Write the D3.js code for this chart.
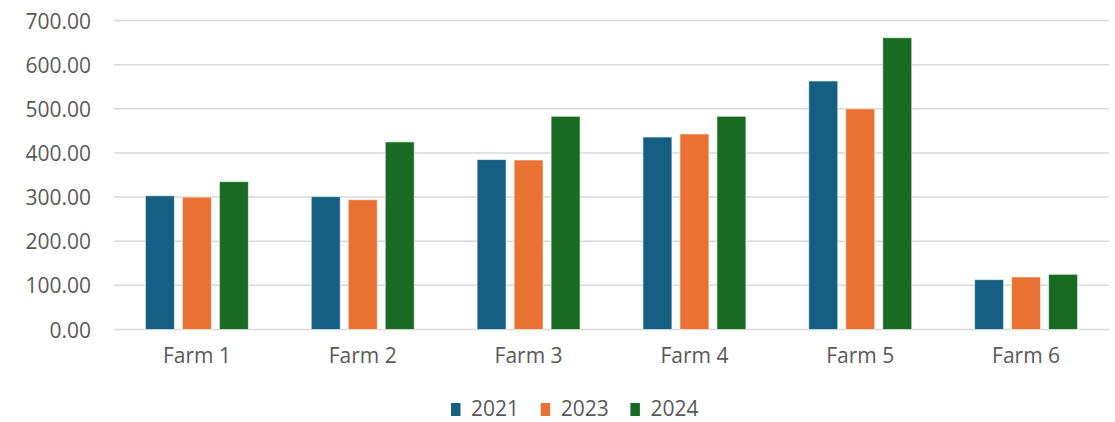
<!DOCTYPE html>
<html>
<head>
<meta charset="utf-8">
<script src="https://cdn.jsdelivr.net/npm/d3@7"></script>
<style>
  body { margin: 0; background: #fff; }
  svg text { font-family: "Open Sans", sans-serif; fill: #595959; }
</style>
</head>
<body>
<svg id="chart"></svg>
<script>
// chart data
var farms = ["Farm 1", "Farm 2", "Farm 3", "Farm 4", "Farm 5", "Farm 6"];
var years = ["2021", "2023", "2024"];
var values2021 = [303, 301, 385, 436, 563, 113];
var values2023 = [300, 294, 384, 443, 500, 119];
var values2024 = [335, 425, 483, 483, 661, 125];
var yTicks = [0, 100, 200, 300, 400, 500, 600, 700];
var colors = ["#156082", "#E97132", "#196B24"];

var series = [values2021, values2023, values2024];

var width = 1115;
var height = 422;

var svg = d3.select("#chart").attr("width", width).attr("height", height);

var x = d3.scaleBand().domain(farms).range([114, 1109]);
var groupW = 103;
var xs = d3.scaleBand().domain(years)
    .range([(x.bandwidth() - groupW) / 2, (x.bandwidth() + groupW) / 2])
    .paddingInner(0.216);
var y = d3.scaleLinear().domain([0, 700]).range([329.5, 20.5]);

// gridlines
svg.append("g").selectAll("line")
    .data(yTicks).enter().append("line")
    .attr("x1", 114).attr("x2", 1109)
    .attr("y1", function(d) { return y(d); })
    .attr("y2", function(d) { return y(d); })
    .attr("stroke", "#d9d9d9")
    .attr("stroke-width", 1.5);

// y axis labels
var yAxis = d3.axisLeft(y).tickValues(yTicks).tickSize(0).tickPadding(0)
    .tickFormat(d3.format(".2f"));
var yg = svg.append("g").attr("transform", "translate(91,0)").call(yAxis);
yg.select(".domain").remove();
yg.selectAll("text").attr("font-size", 21).attr("font-family", null).attr("fill", "#595959").attr("dy", "0.36em");

// x axis labels
var xAxis = d3.axisBottom(x).tickSize(0).tickPadding(0);
var xg = svg.append("g").attr("transform", "translate(0,347)").call(xAxis);
xg.select(".domain").remove();
xg.selectAll("text").attr("font-size", 21).attr("font-family", null).attr("fill", "#595959").attr("dy", "0.74em");

// bars
var groups = svg.append("g").selectAll("g")
    .data(farms).enter().append("g")
    .attr("transform", function(d) { return "translate(" + x(d) + ",0)"; });

groups.selectAll("rect")
    .data(function(d, i) {
        return years.map(function(yr, j) { return { year: yr, value: series[j][i], k: j }; });
    })
    .enter().append("rect")
    .attr("x", function(d) { return xs(d.year); })
    .attr("width", xs.bandwidth())
    .attr("y", function(d) { return y(d.value); })
    .attr("height", function(d) { return y(0) - y(d.value); })
    .attr("fill", function(d) { return colors[d.k]; })
    .attr("stroke", "#fff")
    .attr("stroke-opacity", 0.6)
    .attr("stroke-width", 1);

// legend (kept a bit above the bottom edge so text is not cut)
var legend = svg.append("g").selectAll("g")
    .data(years).enter().append("g")
    .attr("transform", function(d, i) { return "translate(" + (451 + i * 89.7) + ",0)"; });

legend.append("rect")
    .attr("x", 0).attr("y", 403)
    .attr("width", 9.5).attr("height", 13)
    .attr("fill", function(d, i) { return colors[i]; });

legend.append("text")
    .attr("x", 20).attr("y", 416)
    .attr("font-size", 21)
    .text(function(d) { return d; });
</script>
</body>
</html>
